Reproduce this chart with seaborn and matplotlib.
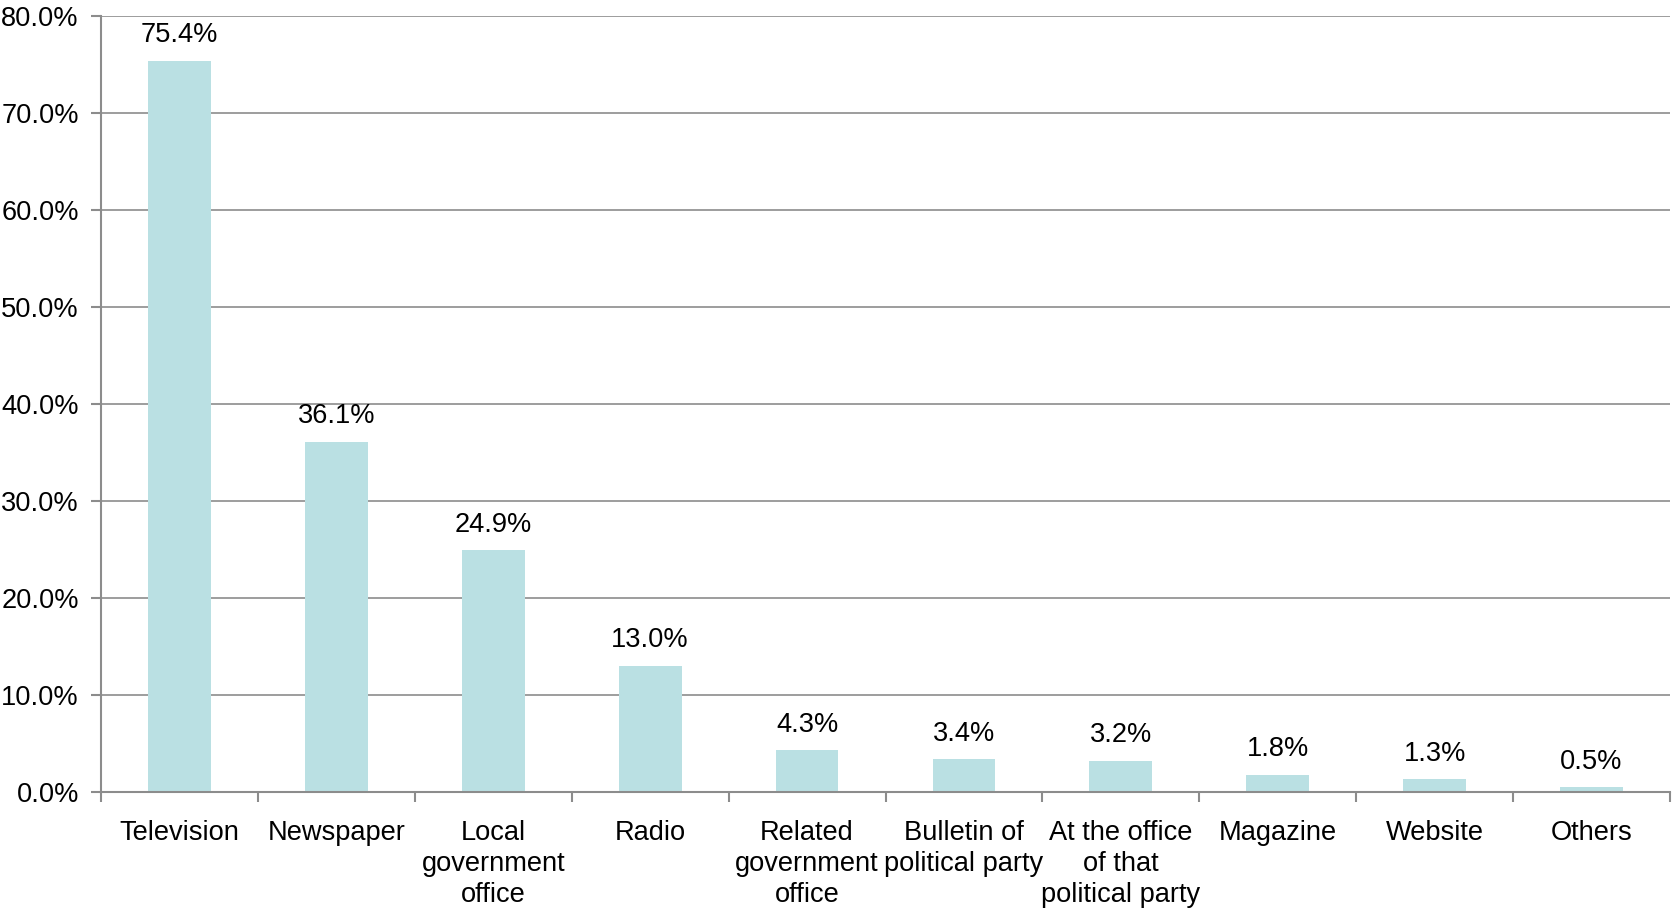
import matplotlib
matplotlib.use("Agg")
import matplotlib.pyplot as plt
import seaborn as sns
import pandas as pd
from matplotlib.ticker import FixedLocator, FuncFormatter

categories = ["Television", "Newspaper", "Local\ngovernment\noffice", "Radio",
              "Related\ngovernment\noffice", "Bulletin of\npolitical party",
              "At the office\nof that\npolitical party", "Magazine", "Website", "Others"]
values = [75.4, 36.1, 24.9, 13.0, 4.3, 3.4, 3.2, 1.8, 1.3, 0.5]
yticks = [0, 10, 20, 30, 40, 50, 60, 70, 80]

sns.set_theme(style="white")
plt.rcParams['font.family'] = ['Liberation Sans', 'DejaVu Sans']

FS = 19.6
df = pd.DataFrame({"cat": categories, "val": values})
fig = plt.figure(figsize=(16.73, 9.10), dpi=100)
ax = fig.add_axes([101/1673, 1 - 792/910, (1670-101)/1673, (792-16)/910])

sns.barplot(data=df, x="cat", y="val", color="#BAE0E3", saturation=1, width=0.4, ax=ax)
for p in ax.patches:
    p.set_edgecolor("none")

ax.set_xlim(-0.5, len(categories) - 0.5)
ax.set_ylim(0, 80)
ax.set_yticks(yticks)
ax.yaxis.set_major_formatter(FuncFormatter(lambda v, _: f"{v:.1f}%"))
ax.grid(axis="y", color="#8c8c8c", linewidth=1.2)
ax.set_axisbelow(True)
ax.set_xlabel("")
ax.set_ylabel("")

for s in ["top", "right"]:
    ax.spines[s].set_visible(False)
for s in ["left", "bottom"]:
    ax.spines[s].set_color("#8c8c8c")
    ax.spines[s].set_linewidth(1.5)

ax.tick_params(axis="y", which="major", length=7, width=1.5, color="#8c8c8c",
               labelsize=FS, pad=9, labelcolor="black", left=True)
ax.tick_params(axis="x", which="major", length=0, labelsize=FS, pad=20, labelcolor="black")
ax.xaxis.set_minor_locator(FixedLocator([i - 0.5 for i in range(len(categories) + 1)]))
ax.tick_params(axis="x", which="minor", length=7, width=1.5, color="#8c8c8c", bottom=True, direction="out")
for lbl in ax.get_xticklabels():
    lbl.set_linespacing(1.25)
    lbl.set_verticalalignment("top")

for i, v in enumerate(values):
    ax.annotate(f"{v:.1f}%", (i, v), xytext=(0, 9), textcoords="offset points",
                ha="center", va="bottom", fontsize=FS, color="black")

fig.savefig("out.png", dpi=100)
